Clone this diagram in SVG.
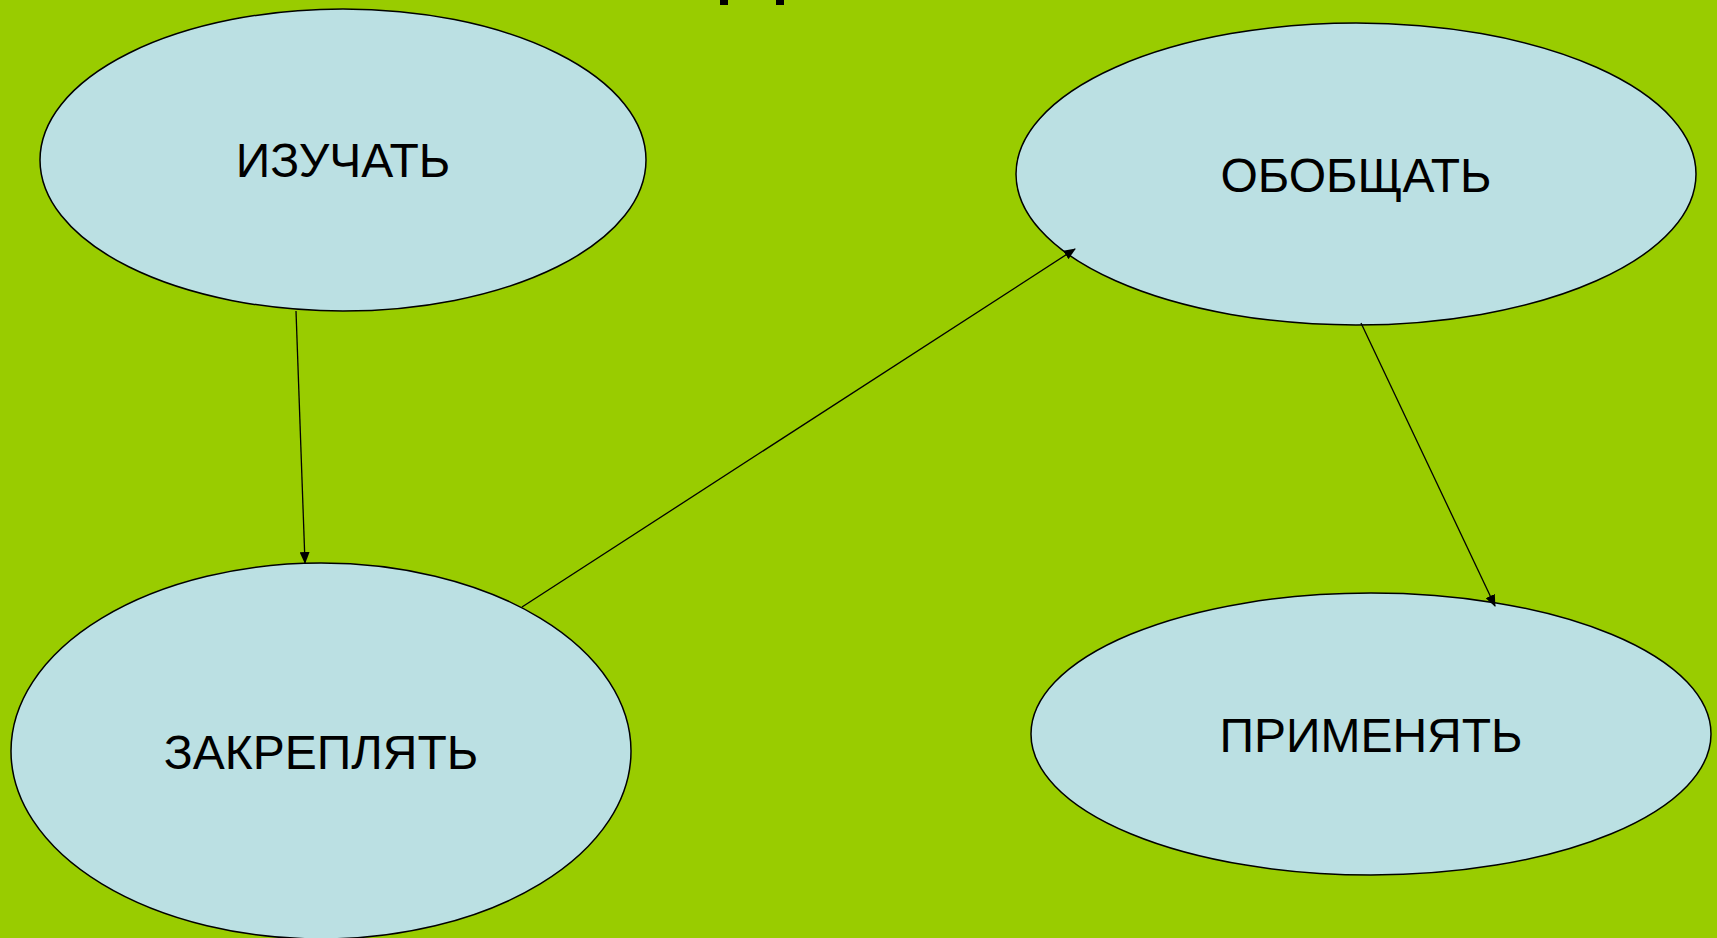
<svg xmlns="http://www.w3.org/2000/svg" width="1717" height="938" viewBox="0 0 1717 938">
<style>
.node ellipse{fill:#BBE0E3;stroke:#000;stroke-width:1.5}
.node text{font-family:"Liberation Sans",Arial,sans-serif;font-size:48px;fill:#000;text-anchor:middle}
.conn line{stroke:#000;stroke-width:1.3;marker-end:url(#ah)}
</style>
<defs>
<marker id="ah" markerWidth="12" markerHeight="10" refX="11" refY="5" orient="auto" markerUnits="userSpaceOnUse">
<path d="M0,0 L12,5 L0,10 Z" fill="#000"/>
</marker>
</defs>
<rect width="1717" height="938" fill="#99CC00"/>
<rect x="720" y="0" width="8" height="5" fill="#000"/>
<rect x="776" y="0" width="8" height="5" fill="#000"/>
<g id="node-izuchat" class="node">
<ellipse cx="343" cy="160" rx="303" ry="151"/>
<text x="343" y="177">ИЗУЧАТЬ</text>
</g>
<g id="node-obobshchat" class="node">
<ellipse cx="1356" cy="174" rx="340" ry="151"/>
<text x="1356" y="192">ОБОБЩАТЬ</text>
</g>
<g id="node-zakreplyat" class="node">
<ellipse cx="321" cy="751" rx="310" ry="188"/>
<text x="321" y="769">ЗАКРЕПЛЯТЬ</text>
</g>
<g id="node-primenyat" class="node">
<ellipse cx="1371" cy="734" rx="340" ry="141"/>
<text x="1371" y="752">ПРИМЕНЯТЬ</text>
</g>
<g id="connectors" class="conn">
<line x1="296" y1="311" x2="305" y2="563"/>
<line x1="522" y1="607" x2="1075" y2="249"/>
<line x1="1361" y1="323" x2="1495" y2="606"/>
</g>
</svg>
